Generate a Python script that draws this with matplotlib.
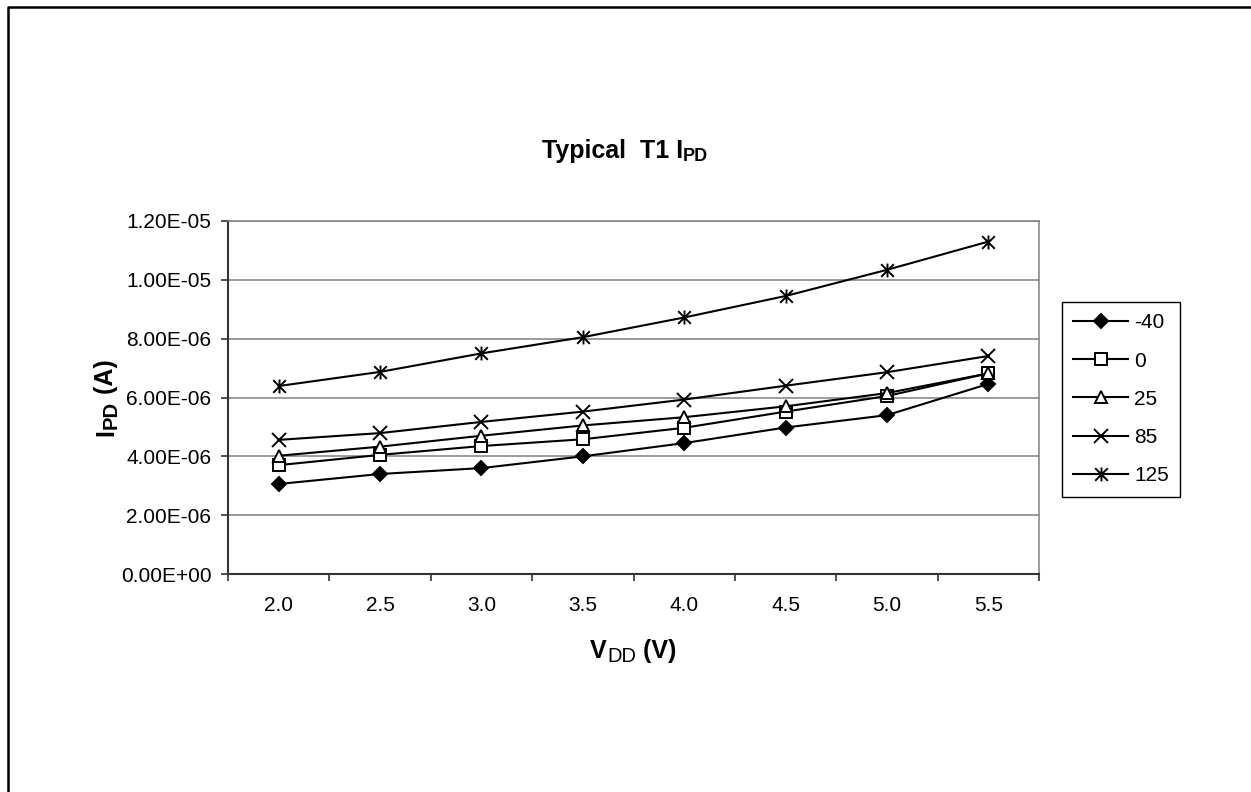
import matplotlib
matplotlib.use('Agg')
import matplotlib.pyplot as plt
import numpy as np
from matplotlib.path import Path
from matplotlib.lines import Line2D

plt.rcParams['font.family'] = ['Liberation Sans', 'DejaVu Sans']

# data
vdd = ['2.0', '2.5', '3.0', '3.5', '4.0', '4.5', '5.0', '5.5']
i_m40 = [3.06e-6, 3.40e-6, 3.60e-6, 4.00e-6, 4.45e-6, 4.98e-6, 5.40e-6, 6.46e-6]
i_0 = [3.70e-6, 4.05e-6, 4.35e-6, 4.58e-6, 4.97e-6, 5.52e-6, 6.05e-6, 6.82e-6]
i_25 = [4.02e-6, 4.33e-6, 4.70e-6, 5.05e-6, 5.33e-6, 5.70e-6, 6.15e-6, 6.82e-6]
i_85 = [4.56e-6, 4.79e-6, 5.17e-6, 5.52e-6, 5.93e-6, 6.40e-6, 6.86e-6, 7.41e-6]
i_125 = [6.39e-6, 6.87e-6, 7.50e-6, 8.05e-6, 8.72e-6, 9.45e-6, 10.34e-6, 11.30e-6]
temps = ['-40', '0', '25', '85', '125']
yticks = [0, 2e-6, 4e-6, 6e-6, 8e-6, 1.0e-5, 1.2e-5]

W, H = 1251, 792
fig = plt.figure(figsize=(W / 100, H / 100), dpi=100)
ax = fig.add_axes([228 / W, (H - 574) / H, (1039 - 228) / W, (574 - 221) / H])

# asterisk marker: x with a vertical bar
star = Path([(-0.5, -0.5), (0.5, 0.5), (-0.5, 0.5), (0.5, -0.5), (0, -0.55), (0, 0.55)],
            [Path.MOVETO, Path.LINETO, Path.MOVETO, Path.LINETO, Path.MOVETO, Path.LINETO])

x = np.arange(len(vdd))
styles = [
    (i_m40, dict(marker='D', ms=7, mfc='black')),
    (i_0, dict(marker='s', ms=8.5, mfc='white')),
    (i_25, dict(marker='^', ms=8.5, mfc='white')),
    (i_85, dict(marker='x', ms=10)),
    (i_125, dict(marker=star, ms=10)),
]
for (vals, st), lab in zip(styles, temps):
    ax.plot(x, vals, color='black', lw=1.5, mec='black', mew=1.4, label=lab, **st)

ax.set_xlim(-0.5, len(vdd) - 0.5)
ax.set_ylim(0, 1.2e-5)
ax.set_yticks(yticks)
ax.set_yticklabels(['%.2E' % v for v in yticks])
ax.set_xticks(np.arange(len(vdd) + 1) - 0.5)
ax.set_xticklabels([])
ax.set_xticks(x, minor=True)
ax.set_xticklabels(vdd, minor=True)
ax.tick_params(axis='x', which='major', direction='out', length=5, width=1.2, color='#333333')
ax.tick_params(axis='x', which='minor', length=0, pad=16, labelsize=15)
ax.tick_params(axis='y', direction='out', length=5, width=1.2, color='#333333', pad=7, labelsize=15)

ax.grid(True, axis='y', color='#808080', lw=1.1)
ax.set_axisbelow(True)
for s in ['top', 'right']:
    ax.spines[s].set_color('#808080')
    ax.spines[s].set_linewidth(1.1)
for s in ['left', 'bottom']:
    ax.spines[s].set_color('#333333')
    ax.spines[s].set_linewidth(1.5)

leg = ax.legend(loc='upper left', bbox_to_anchor=(1062 / W, (H - 302) / H),
                bbox_transform=fig.transFigure, borderaxespad=0, fontsize=15,
                handlelength=2.6, handletextpad=0.3, labelspacing=0.92,
                borderpad=0.55, fancybox=False, framealpha=1, edgecolor='black')
leg.get_frame().set_linewidth(1.0)

# title with subscript
t1 = fig.text(542 / W, (H - 158) / H, 'Typical  T1 I', fontsize=18, fontweight='bold',
              ha='left', va='baseline')
ax.annotate('PD', xy=(1, 0), xycoords=t1, xytext=(0, -1.3), textcoords='offset points',
            fontsize=13, fontweight='bold', ha='left', va='bottom', annotation_clip=False)

# x label
xl1 = fig.text(590 / W, (H - 658) / H, 'V', fontsize=18, fontweight='bold',
               ha='left', va='baseline')
xl2 = ax.annotate('DD', xy=(1, 0), xycoords=xl1, xytext=(0.5, -2.0), textcoords='offset points',
                  fontsize=14.5, ha='left', va='bottom', annotation_clip=False)
ax.annotate(' (V)', xy=(1, 0), xycoords=xl2, xytext=(0, 2.0), textcoords='offset points',
            fontsize=18, fontweight='bold', ha='left', va='bottom', annotation_clip=False)

# y label
yl1 = fig.text(118 / W, (H - 436) / H, 'I', fontsize=18, fontweight='bold', rotation=90,
               ha='right', va='bottom')
yl2 = ax.annotate('PD', xy=(1, 1), xycoords=yl1, xytext=(2.0, 0), textcoords='offset points',
                  fontsize=14.5, fontweight='bold', rotation=90, ha='right', va='bottom',
                  annotation_clip=False)
ax.annotate(' (A)', xy=(1, 1), xycoords=yl2, xytext=(-2.0, 0), textcoords='offset points',
            fontsize=18, fontweight='bold', rotation=90, ha='right', va='bottom',
            annotation_clip=False)

# outer frame (open on right and bottom)
fig.add_artist(Line2D([8 / W, 8 / W, 1.0], [0.0, (H - 7) / H, (H - 7) / H],
                      transform=fig.transFigure, color='black', lw=1.8))

fig.savefig('out.png', dpi=100)
